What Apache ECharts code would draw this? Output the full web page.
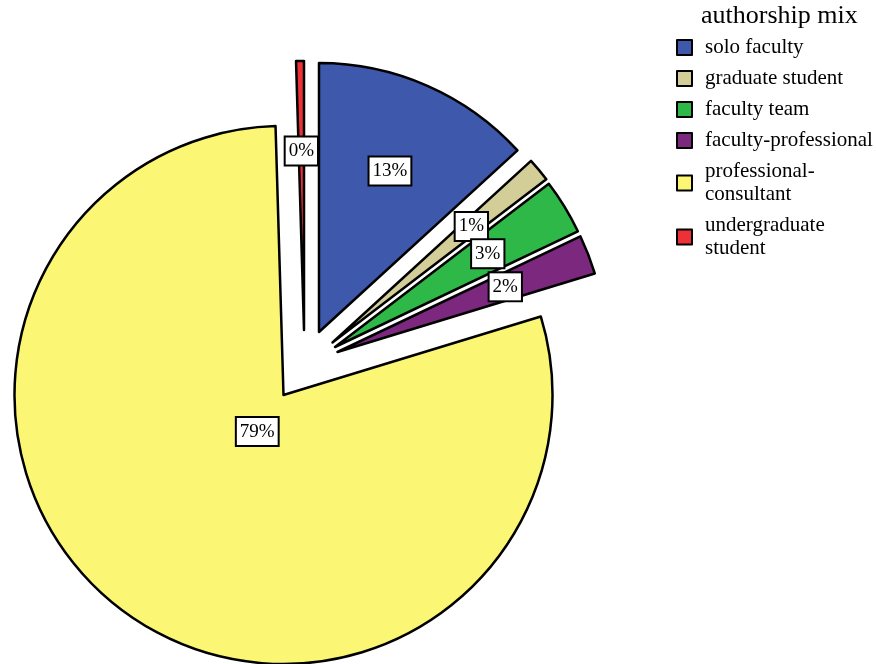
<!DOCTYPE html>
<html><head><meta charset="utf-8">
<script src="https://cdn.jsdelivr.net/npm/echarts@6/dist/echarts.min.js"></script>
<style>html,body{margin:0;padding:0;background:#fff}#c{width:876px;height:664px}</style>
</head><body><div id="c"></div>
<script>
const categories = ['solo faculty','graduate student','faculty team','faculty-professional','professional-consultant','undergraduate student'];
const counts = [28, 3, 7, 5, 168, 1];
const legendLabels = ['solo faculty','graduate student','faculty team','faculty-professional','professional-\nconsultant','undergraduate\nstudent'];
const colors = ['#3e58ac','#d3ce97','#2eb848','#7b287e','#fbf774','#ee3137'];
const sliceCenters = [[319,332],[332.5,342.5],[335,347],[337.5,352],[283.5,395],[304,330]];
const labelDistances = [173,178,176,177,42,176];
const R = 269;

const total = counts.reduce((a,b)=>a+b,0);
const clear = 'rgba(0,0,0,0)';
function pieData(active, forLabel) {
  return categories.map((name,i)=>({
    name: name, value: counts[i],
    itemStyle: (i===active && !forLabel) ? {color: colors[i], borderColor:'#000', borderWidth:2.5} : {color: clear, borderColor: clear, borderWidth:0},
    label: {show: forLabel && i===active}
  }));
}
const common = {type:'pie', startAngle:90, clockwise:true, silent:true, animation:false, avoidLabelOverlap:false,
  labelLine:{show:false}, emphasis:{disabled:true}, labelLayout:{hideOverlap:false}};
const series = [];
categories.forEach((n,i)=>{
  series.push(Object.assign({}, common, {center: sliceCenters[i], radius:[0,R], data: pieData(i,false), label:{show:false}}));
});
categories.forEach((n,i)=>{
  series.push(Object.assign({}, common, {center: sliceCenters[i], radius:[0, 2*labelDistances[i]], data: pieData(i,true), z:5,
    label:{position:'inside', formatter: p => Math.round(p.value/total*100)+'%', fontFamily:'Liberation Serif', fontSize:19, color:'#000',
      backgroundColor:'#fff', borderColor:'#000', borderWidth:2, padding:[4,3,3,3], lineHeight:20}}));
});
const chart = echarts.init(document.getElementById('c'), null, {renderer:'canvas'});
chart.setOption({
  animation:false,
  title:{text:'authorship mix', left:701, top:3, padding:0, textStyle:{fontFamily:'Liberation Serif', fontSize:26, fontWeight:'normal', color:'#000'}},
  legend:{orient:'vertical', left:676, top:36, padding:0, itemWidth:15, itemHeight:15, itemGap:8, icon:'rect', selectedMode:false,
    data: categories.map((n,i)=>({name:n, itemStyle:{color:colors[i], borderColor:'#000', borderWidth:2}})),
    formatter: n => legendLabels[categories.indexOf(n)],
    textStyle:{fontFamily:'Liberation Serif', fontSize:21, color:'#000', lineHeight:23, padding:[0,0,0,8]}},
  series: series
});
</script></body></html>
